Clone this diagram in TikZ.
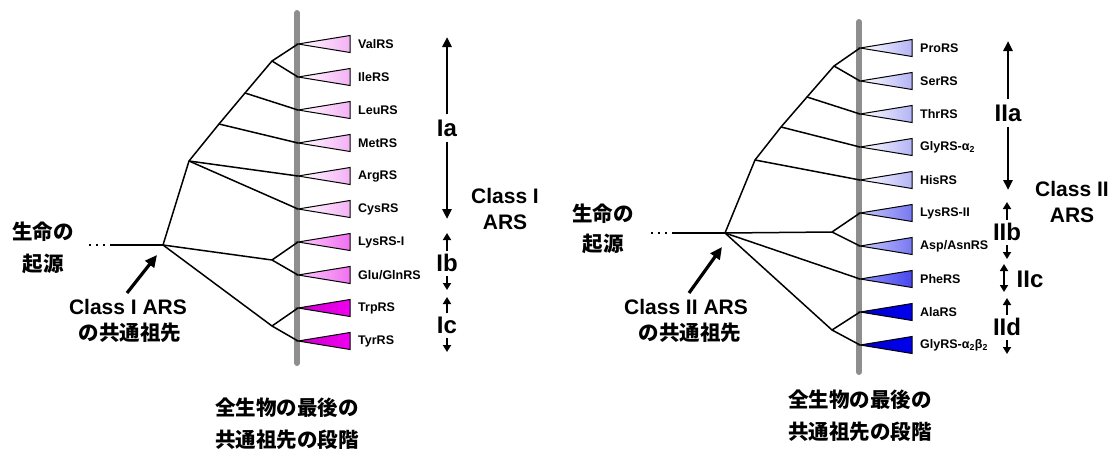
\documentclass[tikz,border=0pt]{standalone}
\usepackage{fontspec}
\setmainfont{Liberation Sans}
\newfontfamily\jp{Noto Sans CJK JP}
\usetikzlibrary{arrows.meta}
\definecolor{barg}{HTML}{8E8E8E}
\definecolor{pA}{HTML}{F4B0F4}
\definecolor{pB}{HTML}{F070F0}
\definecolor{pC}{HTML}{F000F0}
\definecolor{bA}{HTML}{B4B4F6}
\definecolor{bB}{HTML}{7878F2}
\definecolor{bC}{HTML}{4848F0}
\definecolor{bD}{HTML}{0000EE}
\tikzset{
  br/.style={line width=1.5pt, line join=round},
  gbar/.style={line width=6pt, barg, line cap=round},
  lab/.style={anchor=west, inner sep=0pt, font=\bfseries\fontsize{12.5}{14}\selectfont},
  grp/.style={inner sep=0pt, font=\bfseries\fontsize{24}{26}\selectfont},
  cls/.style={inner sep=0pt, align=center, font=\bfseries\fontsize{21}{26}\selectfont},
  jtxt/.style={inner sep=0pt, font=\jp\bfseries\fontsize{20.5}{22}\selectfont},
  garr/.style={line width=2.6pt, -{Triangle[length=10pt,width=9pt]}},
  sarr/.style={line width=2.6pt, -{Triangle[length=7pt,width=8pt]}},
  bigarr/.style={line width=3.2pt, -{Triangle[length=12pt,width=11pt]}},
  dots/.style={line width=1.5pt, dash pattern=on 2pt off 5pt},
}
\newcommand{\trid}[5]{% name, x, y, leftcolor, rightcolor
  \shade[left color=#4, right color=#5, draw=black, line width=1pt, line join=miter]
    (#2,#3) -- (#2+52,#3-8.5) -- (#2+52,#3+8.5) -- cycle;
  \coordinate (#1) at (#2,#3);
}
\begin{document}
\begin{tikzpicture}[x=1pt,y=-1pt]
\useasboundingbox (0,0) rectangle (1110,450);
% ---------------- LEFT PANEL ----------------
\draw[gbar] (297,13) -- (297,363);
\trid{l0}{298}{44}{white}{pA}
\trid{l1}{298}{77}{white}{pA}
\trid{l2}{298}{110}{white}{pA}
\trid{l3}{298}{143}{white}{pA}
\trid{l4}{298}{176}{white}{pA}
\trid{l5}{298}{209}{white}{pA}
\trid{l6}{298}{242}{pB!35!white}{pB}
\trid{l7}{298}{275}{pB!35!white}{pB}
\trid{l8}{298}{308}{pC!85!black}{pC}
\trid{l9}{298}{341}{pC!85!black}{pC}
\node[lab] (ll0) at (358,44) {ValRS};
\node[lab] (ll1) at (358,77) {IleRS};
\node[lab] (ll2) at (358,110) {LeuRS};
\node[lab] (ll3) at (358,143) {MetRS};
\node[lab] (ll4) at (358,176) {ArgRS};
\node[lab] (ll5) at (358,209) {CysRS};
\node[lab] (ll6) at (358,242) {LysRS-I};
\node[lab] (ll7) at (358,275) {Glu/GlnRS};
\node[lab] (ll8) at (358,308) {TrpRS};
\node[lab] (ll9) at (358,341) {TyrRS};
\coordinate (lroot) at (163,245);
\coordinate (lA) at (189,161);
\coordinate (lB) at (219,124);
\coordinate (lC) at (245,93);
\coordinate (lD) at (272,61);
\coordinate (lE) at (272,260);
\coordinate (lF) at (272,326);
\coordinate (ldot) at (89,245);
\coordinate (lline) at (111,245);
\draw[dots] (ldot) -- (lline);
\draw[br] (lline) -- (lroot);
\draw[br] (lroot) -- (lA) -- (lB) -- (lC) -- (lD) -- (l0);
\draw[br] (lD) -- (l1);
\draw[br] (lC) -- (l2);
\draw[br] (lB) -- (l3);
\draw[br] (lA) -- (l4);
\draw[br] (lA) -- (l5);
\draw[br] (lroot) -- (lE) -- (l6);
\draw[br] (lE) -- (l7);
\draw[br] (lroot) -- (lF) -- (l8);
\draw[br] (lF) -- (l9);
% group labels
\node[grp] (Ia) at (447,128) {Ia};
\coordinate (Iat) at (447,37);
\coordinate (Iab) at (447,219);
\draw[garr] (Ia.north) ++(0,-5) -- (Iat);
\draw[garr] (Ia.south) ++(0,5) -- (Iab);
\node[grp] (Ib) at (447,263) {Ib};
\coordinate (Ibt) at (447,233);
\coordinate (Ibb) at (447,290);
\draw[sarr] (Ib.north) ++(0,-3) -- (Ibt);
\draw[sarr] (Ib.south) ++(0,4) -- (Ibb);
\node[grp] (Ic) at (447,325) {Ic};
\coordinate (Ict) at (447,297);
\coordinate (Icb) at (447,352);
\draw[sarr] (Ic.north) ++(0,-3) -- (Ict);
\draw[sarr] (Ic.south) ++(0,4) -- (Icb);
\node[cls] (clsI) at (505,209) {Class I\\ARS};
% left texts
\node[jtxt] (lorig1) at (43,232) {生命の};
\node[jtxt] (lorig2) at (43,264) {起源};
\node[cls] (lanc1) at (128,307) {Class I ARS};
\node[jtxt] (lanc2) at (130,333) {の共通祖先};
\coordinate (lat) at (127,293);
\draw[bigarr] (lat) -- (157,255);
\node[jtxt] (lbot1) at (287,408) {全生物の最後の};
\node[jtxt] (lbot2) at (287,440) {共通祖先の段階};
% ---------------- RIGHT PANEL ----------------
\draw[gbar] (859,22) -- (859,372);
\trid{r0}{860}{48}{white}{bA}
\trid{r1}{860}{81}{white}{bA}
\trid{r2}{860}{114}{white}{bA}
\trid{r3}{860}{147}{white}{bA}
\trid{r4}{860}{180}{white}{bA}
\trid{r5}{860}{213}{bB!40!white}{bB}
\trid{r6}{860}{246}{bB!40!white}{bB}
\trid{r7}{860}{279}{bC!60!white}{bC}
\trid{r8}{860}{312}{bD!85!black}{bD}
\trid{r9}{860}{345}{bD!85!black}{bD}
\node[lab] (rl0) at (920,48) {ProRS};
\node[lab] (rl1) at (920,81) {SerRS};
\node[lab] (rl2) at (920,114) {ThrRS};
\node[lab] (rl3) at (920,147) {GlyRS-α\textsubscript{2}};
\node[lab] (rl4) at (920,180) {HisRS};
\node[lab] (rl5) at (920,213) {LysRS-II};
\node[lab] (rl6) at (920,246) {Asp/AsnRS};
\node[lab] (rl7) at (920,279) {PheRS};
\node[lab] (rl8) at (920,312) {AlaRS};
\node[lab] (rl9) at (920,345) {GlyRS-α\textsubscript{2}β\textsubscript{2}};
\coordinate (rroot) at (725,233);
\coordinate (rA) at (755,160);
\coordinate (rB) at (781,127);
\coordinate (rC) at (807,97);
\coordinate (rD) at (834,66);
\coordinate (rE) at (832,232);
\coordinate (rF) at (832,330);
\coordinate (rdot) at (651,233);
\coordinate (rline) at (673,233);
\draw[dots] (rdot) -- (rline);
\draw[br] (rline) -- (rroot);
\draw[br] (rroot) -- (rA) -- (rB) -- (rC) -- (rD) -- (r0);
\draw[br] (rD) -- (r1);
\draw[br] (rC) -- (r2);
\draw[br] (rB) -- (r3);
\draw[br] (rA) -- (r4);
\draw[br] (rroot) -- (rE) -- (r5);
\draw[br] (rE) -- (r6);
\draw[br] (rroot) -- (r7);
\draw[br] (rroot) -- (rF) -- (r8);
\draw[br] (rF) -- (r9);
% group labels
\node[grp] (IIa) at (1008,113) {IIa};
\coordinate (IIat) at (1008,41);
\coordinate (IIab) at (1008,190);
\draw[garr] (IIa.north) ++(0,-5) -- (IIat);
\draw[garr] (IIa.south) ++(0,5) -- (IIab);
\node[grp] (IIb) at (1007,232) {IIb};
\coordinate (IIbt) at (1007,202);
\coordinate (IIbb) at (1007,259);
\draw[sarr] (IIb.north) ++(0,-3) -- (IIbt);
\draw[sarr] (IIb.south) ++(0,4) -- (IIbb);
\node[grp] (IIc) at (1030,279) {IIc};
\coordinate (IIct) at (1004,264);
\coordinate (IIcb) at (1004,292);
\draw[line width=2.6pt, {Triangle[length=7pt,width=8pt]}-{Triangle[length=7pt,width=8pt]}] (IIct) -- (IIcb);
\node[grp] (IId) at (1007,327) {IId};
\coordinate (IIdt) at (1007,298);
\coordinate (IIdb) at (1007,354);
\draw[sarr] (IId.north) ++(0,-3) -- (IIdt);
\draw[sarr] (IId.south) ++(0,4) -- (IIdb);
\node[cls] (clsII) at (1072,202) {Class II\\ARS};
% right texts
\node[jtxt] (rorig1) at (603,214) {生命の};
\node[jtxt] (rorig2) at (603,244) {起源};
\node[cls] (ranc1) at (686,307) {Class II ARS};
\node[jtxt] (ranc2) at (690,333) {の共通祖先};
\coordinate (rat) at (689,293);
\draw[bigarr] (rat) -- (722,247);
\node[jtxt] (rbot1) at (860,400) {全生物の最後の};
\node[jtxt] (rbot2) at (860,432) {共通祖先の段階};
\end{tikzpicture}
\end{document}
